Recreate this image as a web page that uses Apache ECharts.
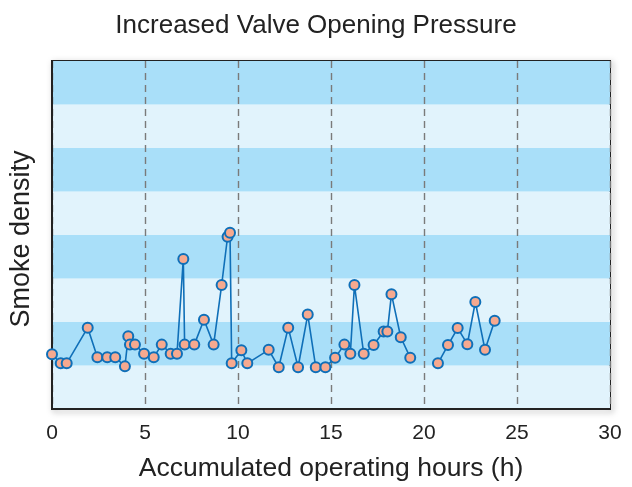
<!DOCTYPE html>
<html>
<head>
<meta charset="utf-8">
<script src="https://cdn.jsdelivr.net/npm/echarts@6/dist/echarts.min.js"></script>
<style>
  html, body { margin: 0; padding: 0; background: #fff; }
  #chart { width: 632px; height: 487px; }
</style>
</head>
<body>
<div id="chart"></div>
<script>
// operating hours and smoke density readings (null = no reading, line breaks)
const hours = [0, 0.47, 0.79, 1.92, 2.44, 2.97, 3.4, 3.92, 4.1, 4.19, 4.46, 4.95, 5.47, 5.9, 6.38, 6.72,
  7.06, 7.13, 7.65, 8.17, 8.69, 9.12, 9.44, 9.57, 9.66, 10.18, 10.5, 11.65, 12.19, 12.7, 13.23, 13.75,
  14.18, 14.7, 15.22, 15.72, 16.04, 16.26, 16.76, 17.29, 17.83, 18.03, 18.25, 18.75, 19.26, 20.0,
  20.75, 21.29, 21.81, 22.33, 22.76, 23.28, 23.8];
const density = [1.26, 1.05, 1.05, 1.87, 1.19, 1.19, 1.19, 0.98, 1.67, 1.48, 1.48, 1.27, 1.19, 1.48, 1.27, 1.27,
  3.45, 1.48, 1.48, 2.05, 1.48, 2.85, 3.96, 4.05, 1.05, 1.35, 1.05, 1.36, 0.96, 1.87, 0.96, 2.17,
  0.96, 0.96, 1.18, 1.48, 1.27, 2.85, 1.27, 1.47, 1.78, 1.78, 2.64, 1.65, 1.18, null,
  1.05, 1.47, 1.86, 1.49, 2.46, 1.36, 2.03];
const xTicks = [0, 5, 10, 15, 20, 25, 30];

const chart = echarts.init(document.getElementById('chart'));
const font = 'Liberation Sans, Arial, sans-serif';

chart.setOption({
  animation: false,
  title: {
    text: 'Increased Valve Opening Pressure',
    left: 'center',
    top: 8,
    textStyle: { fontFamily: font, fontSize: 26, fontWeight: 'normal', color: '#222' }
  },
  grid: {
    left: 52, right: 22, top: 61, bottom: 77,
    show: true,
    borderColor: '#222',
    borderWidth: 2,
    shadowColor: 'rgba(0,0,0,0.35)',
    shadowBlur: 6,
    shadowOffsetX: 2,
    shadowOffsetY: 2
  },
  xAxis: {
    type: 'value',
    min: xTicks[0],
    max: xTicks[xTicks.length - 1],
    interval: 5,
    name: 'Accumulated operating hours (h)',
    nameLocation: 'middle',
    nameGap: 46,
    nameTextStyle: { fontFamily: font, fontSize: 26.5, color: '#222' },
    axisLine: { show: true, lineStyle: { color: '#222', width: 2 } },
    axisTick: { show: false },
    axisLabel: { fontFamily: font, fontSize: 21, color: '#222', margin: 14 },
    splitLine: { show: true, lineStyle: { color: '#7a7a7a', type: [7, 5], width: 1.4 } }
  },
  yAxis: {
    type: 'value',
    min: 0,
    max: 8,
    interval: 1,
    name: 'Smoke density',
    nameLocation: 'middle',
    nameGap: 17,
    nameTextStyle: { fontFamily: font, fontSize: 27, color: '#222', padding: [0, 8, 0, 0] },
    axisLine: { show: true, lineStyle: { color: '#222', width: 2 } },
    axisTick: { show: false },
    axisLabel: { show: false },
    splitLine: { show: false },
    splitArea: { show: true, areaStyle: { color: ['#e1f3fc', '#a9dff9'] } }
  },
  series: [{
    type: 'line',
    data: hours.map((h, i) => [h, density[i]]),
    connectNulls: false,
    symbol: 'circle',
    symbolSize: 10,
    lineStyle: { color: '#0f6fb8', width: 1.6 },
    itemStyle: { color: '#f6a98f', borderColor: '#0f6fb8', borderWidth: 2 }
  }]
});
</script>
</body>
</html>
